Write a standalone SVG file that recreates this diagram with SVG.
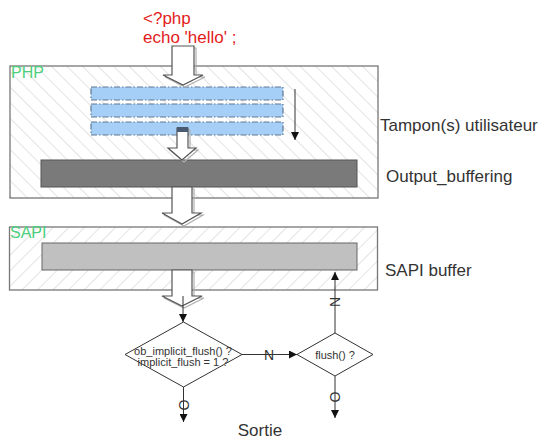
<svg xmlns="http://www.w3.org/2000/svg" width="541" height="440" viewBox="0 0 541 440">
<style>
.box{stroke:#777;stroke-width:1.3}
.lbl{font-family:"Liberation Sans",Arial,sans-serif;fill:#333}
.grn{font-family:"Liberation Sans",Arial,sans-serif;fill:#4ccf7c;font-size:16px}
.red{font-family:"Liberation Sans",Arial,sans-serif;fill:#e31b1b;font-size:17px}
.blue{fill:#a6cff7;stroke:#5f7891;stroke-width:1.2;stroke-dasharray:6 2 1.5 2}
.harrow{fill:#fff;stroke:#555;stroke-width:1.2}
.hshadow{fill:none;stroke:#b0b0b0;stroke-width:1.2}
.dia{fill:#fff;stroke:#333;stroke-width:1}
.conn{stroke:#333;stroke-width:1;fill:none}
.small{font-family:"Liberation Sans",Arial,sans-serif;fill:#333;font-size:11px}
</style>
<defs>
<pattern id="hatchB" width="11" height="11" patternUnits="userSpaceOnUse" patternTransform="rotate(-45)">
<rect width="11" height="11" fill="#fff"/>
<line x1="0" y1="0" x2="0" y2="11" stroke="#c8c8c8" stroke-width="1"/>
</pattern>
<pattern id="hatchF" width="11" height="11" patternUnits="userSpaceOnUse" patternTransform="rotate(45)">
<rect width="11" height="11" fill="#fff"/>
<line x1="0" y1="0" x2="0" y2="11" stroke="#c8c8c8" stroke-width="1"/>
</pattern>
<marker id="ah" viewBox="0 0 10 10" refX="10" refY="5" markerWidth="8" markerHeight="8" markerUnits="userSpaceOnUse" orient="auto">
<path d="M0,0 L10,5 L0,10 Z" fill="#111"/>
</marker>
</defs>
<rect width="541" height="440" fill="#fff"/>

<g id="code">
<text class="red" x="143" y="24">&lt;?php</text>
<text class="red" x="143" y="43">echo 'hello' ;</text>
</g>

<g id="php">
<rect class="box" x="10" y="66" width="368" height="132" fill="url(#hatchB)"/>
<text class="grn" x="11" y="78">PHP</text>
</g>

<g id="user-buffers">
<rect class="blue" x="91" y="87" width="192" height="13"/>
<rect class="blue" x="91" y="104" width="192" height="13"/>
<rect class="blue" x="91" y="122" width="192" height="13"/>
</g>

<g id="output-buffering">
<rect x="41" y="160" width="316" height="27" fill="#7a7a7a" stroke="#555" stroke-width="1"/>
</g>

<g id="sapi">
<rect class="box" x="9.5" y="227" width="368" height="63" fill="url(#hatchF)"/>
<text class="grn" x="10" y="238">SAPI</text>
</g>

<g id="sapi-buffer">
<rect x="42" y="243" width="315" height="27" fill="#c0c0c0" stroke="#666" stroke-width="1"/>
</g>

<g id="labels">
<text class="lbl" x="380" y="131" font-size="17">Tampon(s) utilisateur</text>
<text class="lbl" x="386" y="182" font-size="17">Output_buffering</text>
<text class="lbl" x="385" y="276" font-size="17">SAPI buffer</text>
<text class="lbl" x="260" y="436" font-size="17" text-anchor="middle">Sortie</text>
</g>

<g id="decision-implicit">
<polygon class="dia" points="183.5,322 242,354.5 183.5,387 125,354.5"/>
<text class="small" x="183" y="355" text-anchor="middle">ob_implicit_flush() ?</text>
<text class="small" x="183" y="366" text-anchor="middle">implicit_flush = 1 ?</text>
</g>

<g id="decision-flush">
<polygon class="dia" points="335,333 373,354.5 335,376 297,354.5"/>
<text class="small" x="335" y="359" text-anchor="middle" font-size="11.5">flush() ?</text>
</g>

<g id="connectors">
<polygon class="hshadow" points="174,48 196,48 196,77 205,77 185,87 165,77 174,77" />
<polygon class="harrow" points="172,46 194,46 194,75 203,75 183,85 163,75 172,75"/>
<polygon class="hshadow" points="179,130 190,130 190,150 198,150 184,162 170,150 179,150"/>
<polygon class="harrow" points="177,128 188,128 188,148 196,148 182,160 168,148 177,148"/>
<rect x="177" y="127" width="11" height="5" fill="#4a5a70"/>
<polygon class="hshadow" points="174,189 194,189 194,215 203,215 184,226 164,215 174,215"/>
<polygon class="harrow" points="172,187 192,187 192,213 201,213 182,224 162,213 172,213"/>
<polygon class="hshadow" points="174,272 194,272 194,298 204,298 184,308 164,298 174,298"/>
<polygon class="harrow" points="172,270 192,270 192,296 202,296 182,306 162,296 172,296"/>
<line class="conn" x1="295" y1="89" x2="295" y2="140" marker-end="url(#ah)"/>
<line class="conn" x1="183" y1="296" x2="183" y2="322" marker-end="url(#ah)"/>
<line class="conn" x1="242" y1="354.5" x2="297" y2="354.5" marker-end="url(#ah)"/>
<text class="lbl" x="269" y="359.5" font-size="14" text-anchor="middle">N</text>
<line class="conn" x1="335" y1="333" x2="335" y2="272" marker-end="url(#ah)"/>
<text class="lbl" x="335" y="307" font-size="14" text-anchor="middle" transform="rotate(-90 335 302)">N</text>
<line class="conn" x1="183.5" y1="387" x2="183.5" y2="422" marker-end="url(#ah)"/>
<text class="lbl" x="183.5" y="410" font-size="14" text-anchor="middle" transform="rotate(-90 183.5 405)">O</text>
<line class="conn" x1="335" y1="376" x2="335" y2="418" marker-end="url(#ah)"/>
<text class="lbl" x="335" y="402" font-size="14" text-anchor="middle" transform="rotate(-90 335 397)">O</text>
</g>
</svg>
